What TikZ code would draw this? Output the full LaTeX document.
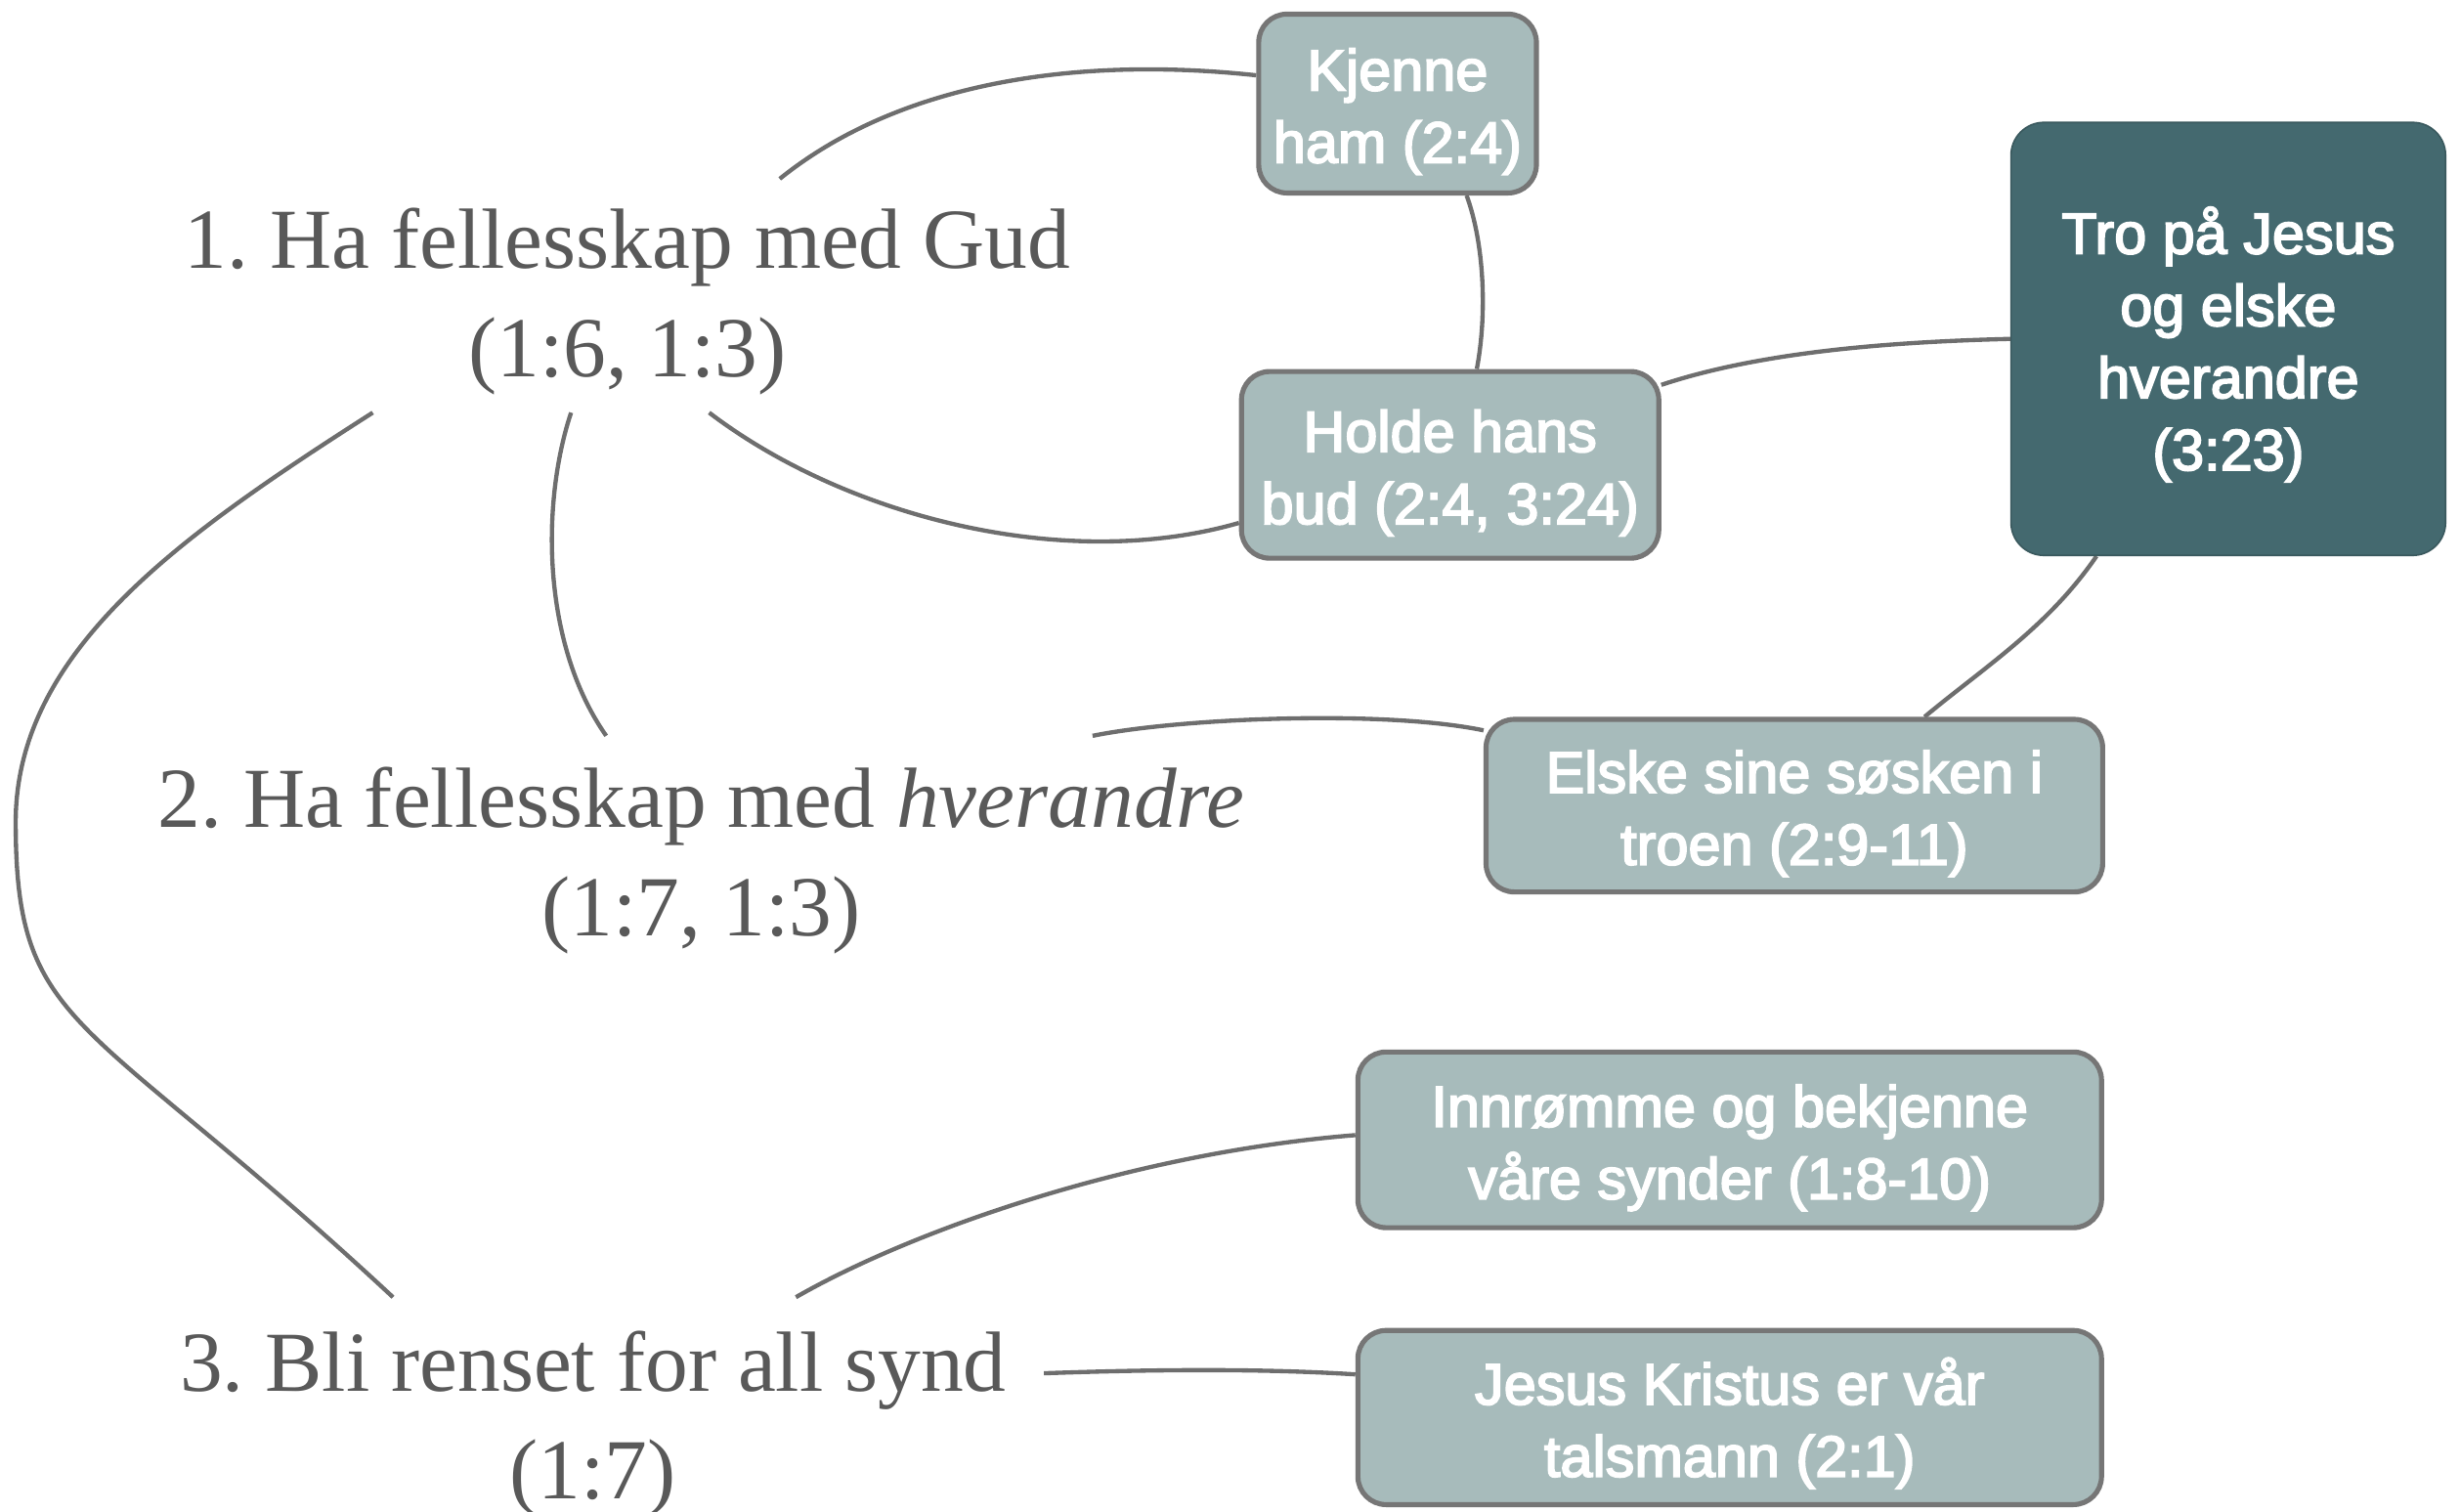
\documentclass[tikz,border=0pt]{standalone}
\usepackage{fontspec}
\setmainfont{Liberation Serif}
\newfontfamily\boxfont[FakeBold=3]{Liberation Sans}
\usetikzlibrary{backgrounds}
\definecolor{cardfill}{HTML}{A7BBBB}
\definecolor{bordergray}{HTML}{767676}
\definecolor{linegray}{HTML}{6E6E6E}
\definecolor{textgray}{HTML}{595959}
\definecolor{darkteal}{HTML}{44696F}
\newcommand\cardlift{\rule{0pt}{37pt}}
\begin{document}
\frenchspacing
\begin{tikzpicture}[x=1pt,y=-1pt,
  conn/.style={draw=linegray, line width=2.7pt},
  topic/.style={font=\fontsize{54.5}{69}\selectfont, text=textgray, align=center, inner sep=0pt},
  card/.style={draw=bordergray, line width=3.2pt, fill=cardfill, rounded corners=18pt,
    text=white, font=\boxfont\fontsize{37}{46}\selectfont, align=center, inner sep=0pt},
  keycard/.style={card, fill=darkteal, draw=darkteal!85!black, line width=1pt, rounded corners=21pt}]
\useasboundingbox (0,0) rectangle (1568,963.7);
% topic texts
\node[topic] (n1) at (400,192) {1. Ha fellesskap med Gud\\(1:6, 1:3)};
\node[topic] (n2) at (447,548.7) {2. Ha fellesskap med \textit{hverandre}\\(1:7, 1:3)};
\node[topic] (n3) at (378,907.7) {3. Bli renset for all synd\\(1:7)};
% cards
\node[card, minimum width=177pt, minimum height=114pt] (kj) at (890.8,66) {\cardlift Kjenne\\ham (2:4)};
\node[card, minimum width=266pt, minimum height=119pt] (hb) at (924.3,296.3) {\cardlift Holde hans\\bud (2:4, 3:24)};
\node[keycard, minimum width=277pt, minimum height=276pt] (tro) at (1420.3,216) {\cardlift Tro på Jesus\\og elske\\hverandre\\(3:23)};
\node[card, minimum width=393pt, minimum height=110pt] (el) at (1143.7,513.5) {\cardlift Elske sine søsken i\\troen (2:9-11)};
\node[card, minimum width=474pt, minimum height=112pt] (ir) at (1102.5,726.5) {\cardlift Innrømme og bekjenne\\våre synder (1:8-10)};
\node[card, minimum width=474pt, minimum height=111pt] (js) at (1102.5,903.5) {\cardlift Jesus Kristus er vår\\talsmann (2:1)};
% free ends near the topic texts
\coordinate (s1a) at (497,114);
\coordinate (s1b) at (452,263);
\coordinate (s1c) at (364,263);
\coordinate (s1d) at (237.6,263);
\coordinate (t2a) at (386.4,469);
\coordinate (s2a) at (696.4,469);
\coordinate (t3a) at (250.5,826.8);
\coordinate (s3a) at (507.3,826.8);
\coordinate (s3b) at (665.4,875.3);
\coordinate (lf) at (10,524);
\begin{scope}[on background layer]
\draw[conn] (s1a) .. controls (570,55) and (680,35) .. ([yshift=18pt]kj.west);
\draw[conn] ([xshift=44pt]kj.south) .. controls (946,155) and (948,200) .. ([xshift=17pt]hb.north);
\draw[conn] (s1b) .. controls (540,330) and (680,365) .. ([yshift=-37pt]hb.west);
\draw[conn] ([yshift=51pt]hb.east) .. controls (1120,225) and (1200,218) .. (tro.west);
\draw[conn] (s1c) .. controls (345,320) and (345,410) .. (t2a);
\draw[conn] (s1d) .. controls (117.6,339.8) and (10,414) .. (lf) .. controls (10,658.4) and (53.2,643.3) .. (t3a);
\draw[conn] ([xshift=-84pt]tro.south) .. controls (1305,400) and (1265,425) .. ([xshift=83pt]el.north);
\draw[conn] (s2a) .. controls (750,458) and (880,452) .. ([yshift=48pt]el.west);
\draw[conn] (s3a) .. controls (580,785) and (720,735) .. ([yshift=3pt]ir.west);
\draw[conn] (s3b) .. controls (730,873) and (800,872) .. ([yshift=27.5pt]js.west);
\end{scope}
\end{tikzpicture}
\end{document}
